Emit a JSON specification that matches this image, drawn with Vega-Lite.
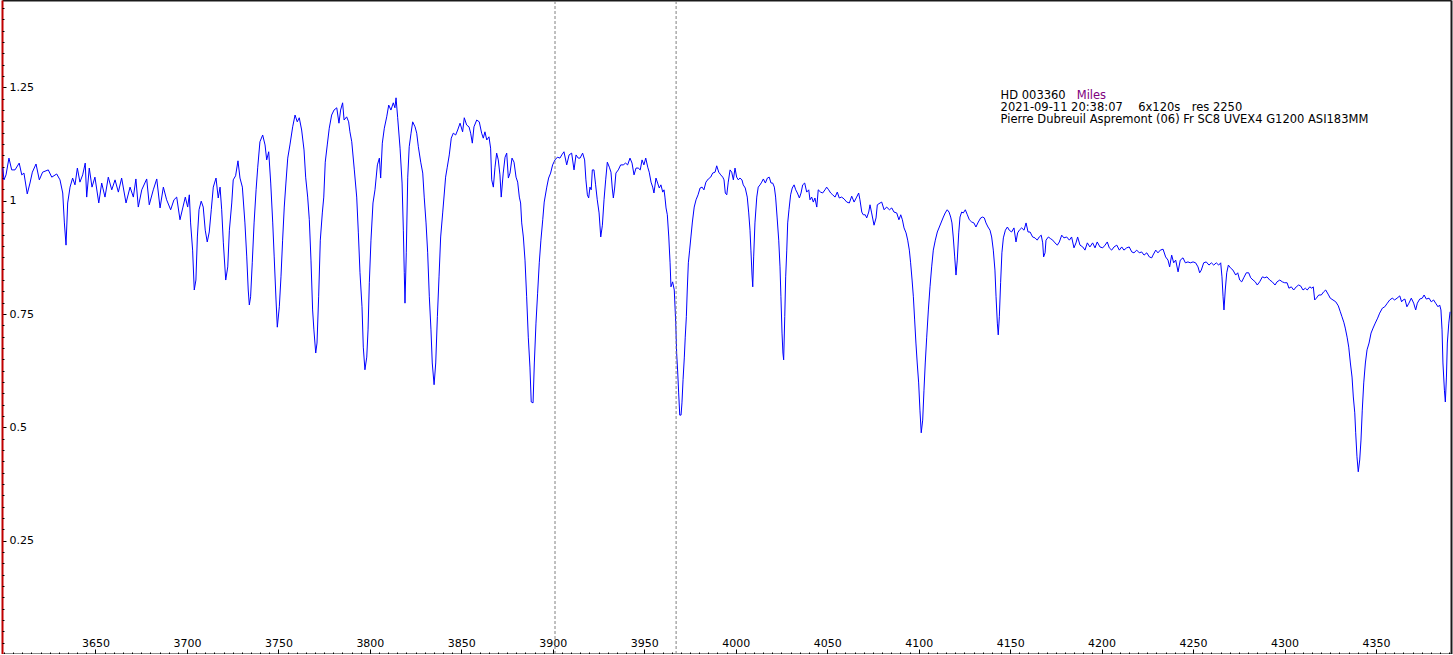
{
"$schema": "https://vega.github.io/schema/vega-lite/v6.json",
"width": 1449, "height": 654,
"autosize": {"type": "none"},
"padding": {"left": 2, "top": 0, "right": 2, "bottom": 0},
"background": "white",
"config": {"view": {"stroke": null}, "axis": {"labelFont": "DejaVu Sans", "labelFontSize": 11, "labelColor": "#000000", "grid": false, "tickColor": "#000000", "title": null}},
"datasets": {
"spectrum": [
{"wl":3599.3,"flux":1.072},{"wl":3600.0,"flux":1.046},{"wl":3601.1,"flux":1.057},{"wl":3602.7,"flux":1.094},{"wl":3604.2,"flux":1.068},{"wl":3606.0,"flux":1.068},{"wl":3608.3,"flux":1.083},{"wl":3609.7,"flux":1.057},{"wl":3610.9,"flux":1.061},{"wl":3612.7,"flux":1.015},{"wl":3614.2,"flux":1.039},{"wl":3615.5,"flux":1.063},{"wl":3617.5,"flux":1.081},{"wl":3619.3,"flux":1.046},{"wl":3621.1,"flux":1.063},{"wl":3624.2,"flux":1.068},{"wl":3626.1,"flux":1.052},{"wl":3628.8,"flux":1.059},{"wl":3630.6,"flux":1.046},{"wl":3632.1,"flux":1.017},{"wl":3633.0,"flux":0.951},{"wl":3633.9,"flux":0.902},{"wl":3634.8,"flux":0.995},{"wl":3636.1,"flux":1.030},{"wl":3637.5,"flux":1.050},{"wl":3638.8,"flux":1.035},{"wl":3640.1,"flux":1.072},{"wl":3641.5,"flux":1.041},{"wl":3643.0,"flux":1.057},{"wl":3644.4,"flux":1.083},{"wl":3645.2,"flux":1.008},{"wl":3646.6,"flux":1.072},{"wl":3648.1,"flux":1.030},{"wl":3649.7,"flux":1.052},{"wl":3651.8,"flux":0.995},{"wl":3653.4,"flux":1.039},{"wl":3655.2,"flux":1.008},{"wl":3657.0,"flux":1.052},{"wl":3658.9,"flux":1.024},{"wl":3660.7,"flux":1.046},{"wl":3662.5,"flux":1.019},{"wl":3664.3,"flux":1.050},{"wl":3666.7,"flux":0.995},{"wl":3668.9,"flux":1.030},{"wl":3670.7,"flux":1.008},{"wl":3672.1,"flux":1.048},{"wl":3673.4,"flux":0.986},{"wl":3675.3,"flux":1.024},{"wl":3678.0,"flux":1.048},{"wl":3679.4,"flux":0.991},{"wl":3681.6,"flux":1.024},{"wl":3683.5,"flux":1.048},{"wl":3685.3,"flux":0.984},{"wl":3687.1,"flux":1.030},{"wl":3688.9,"flux":1.002},{"wl":3691.1,"flux":0.980},{"wl":3692.9,"flux":1.002},{"wl":3694.4,"flux":1.008},{"wl":3696.2,"flux":0.958},{"wl":3697.7,"flux":0.984},{"wl":3699.1,"flux":1.008},{"wl":3700.4,"flux":0.986},{"wl":3701.3,"flux":1.013},{"wl":3702.0,"flux":0.951},{"wl":3703.1,"flux":0.891},{"wl":3704.0,"flux":0.803},{"wl":3704.9,"flux":0.825},{"wl":3705.7,"flux":0.920},{"wl":3706.6,"flux":0.980},{"wl":3707.8,"flux":0.999},{"wl":3708.9,"flux":0.986},{"wl":3710.0,"flux":0.935},{"wl":3711.1,"flux":0.909},{"wl":3712.2,"flux":0.931},{"wl":3713.3,"flux":0.980},{"wl":3714.4,"flux":1.030},{"wl":3715.9,"flux":1.050},{"wl":3717.1,"flux":1.006},{"wl":3718.1,"flux":1.030},{"wl":3719.0,"flux":0.980},{"wl":3719.9,"flux":0.907},{"wl":3721.2,"flux":0.825},{"wl":3722.3,"flux":0.854},{"wl":3723.2,"flux":0.935},{"wl":3724.5,"flux":0.995},{"wl":3725.3,"flux":1.046},{"wl":3726.6,"flux":1.055},{"wl":3727.9,"flux":1.088},{"wl":3729.0,"flux":1.050},{"wl":3730.3,"flux":1.030},{"wl":3731.7,"flux":0.951},{"wl":3732.7,"flux":0.876},{"wl":3733.5,"flux":0.803},{"wl":3734.1,"flux":0.770},{"wl":3734.8,"flux":0.788},{"wl":3735.7,"flux":0.863},{"wl":3736.7,"flux":0.951},{"wl":3737.8,"flux":1.024},{"wl":3738.7,"flux":1.074},{"wl":3739.9,"flux":1.130},{"wl":3741.4,"flux":1.145},{"wl":3742.7,"flux":1.123},{"wl":3743.6,"flux":1.090},{"wl":3744.7,"flux":1.108},{"wl":3745.8,"flux":1.039},{"wl":3746.9,"flux":0.951},{"wl":3747.7,"flux":0.876},{"wl":3748.7,"flux":0.781},{"wl":3749.4,"flux":0.721},{"wl":3750.5,"flux":0.766},{"wl":3751.4,"flux":0.832},{"wl":3752.3,"flux":0.913},{"wl":3753.2,"flux":0.986},{"wl":3754.1,"flux":1.039},{"wl":3755.1,"flux":1.094},{"wl":3756.3,"flux":1.123},
{"wl":3757.8,"flux":1.163},{"wl":3759.1,"flux":1.189},{"wl":3760.3,"flux":1.174},{"wl":3761.4,"flux":1.183},{"wl":3762.7,"flux":1.156},{"wl":3764.0,"flux":1.112},{"wl":3764.9,"flux":1.052},{"wl":3766.0,"flux":1.008},{"wl":3766.9,"flux":0.958},{"wl":3767.8,"flux":0.869},{"wl":3768.7,"flux":0.759},{"wl":3769.4,"flux":0.715},{"wl":3770.4,"flux":0.664},{"wl":3771.1,"flux":0.686},{"wl":3772.0,"flux":0.788},{"wl":3772.9,"flux":0.913},{"wl":3774.0,"flux":0.973},{"wl":3774.8,"flux":1.008},{"wl":3775.6,"flux":1.085},{"wl":3776.7,"flux":1.123},{"wl":3777.8,"flux":1.160},{"wl":3779.1,"flux":1.189},{"wl":3780.4,"flux":1.200},{"wl":3781.9,"flux":1.205},{"wl":3783.1,"flux":1.171},{"wl":3784.0,"flux":1.200},{"wl":3785.1,"flux":1.216},{"wl":3785.9,"flux":1.178},{"wl":3787.3,"flux":1.185},{"wl":3788.4,"flux":1.174},{"wl":3789.1,"flux":1.152},{"wl":3790.1,"flux":1.130},{"wl":3791.5,"flux":1.068},{"wl":3792.8,"flux":1.008},{"wl":3793.7,"flux":0.929},{"wl":3794.6,"flux":0.841},{"wl":3795.7,"flux":0.766},{"wl":3796.4,"flux":0.677},{"wl":3797.3,"flux":0.627},{"wl":3798.3,"flux":0.655},{"wl":3799.0,"flux":0.715},{"wl":3799.7,"flux":0.819},{"wl":3800.6,"flux":0.913},{"wl":3801.7,"flux":0.995},{"wl":3802.8,"flux":1.024},{"wl":3804.1,"flux":1.079},{"wl":3805.2,"flux":1.094},{"wl":3805.9,"flux":1.050},{"wl":3806.8,"flux":1.127},{"wl":3807.9,"flux":1.160},{"wl":3809.2,"flux":1.185},{"wl":3810.3,"flux":1.211},{"wl":3811.5,"flux":1.200},{"wl":3812.8,"flux":1.216},{"wl":3813.7,"flux":1.205},{"wl":3814.3,"flux":1.227},{"wl":3815.2,"flux":1.183},{"wl":3816.5,"flux":1.116},{"wl":3817.6,"flux":1.039},{"wl":3818.3,"flux":0.935},{"wl":3818.8,"flux":0.841},{"wl":3819.2,"flux":0.774},{"wl":3819.9,"flux":0.885},{"wl":3820.7,"flux":1.052},{"wl":3821.5,"flux":1.119},{"wl":3822.5,"flux":1.149},{"wl":3823.4,"flux":1.174},{"wl":3824.7,"flux":1.163},{"wl":3825.6,"flux":1.149},{"wl":3826.5,"flux":1.119},{"wl":3827.8,"flux":1.085},{"wl":3828.9,"flux":1.061},{"wl":3829.7,"flux":1.008},{"wl":3830.7,"flux":0.951},{"wl":3831.6,"flux":0.885},{"wl":3832.5,"flux":0.788},{"wl":3833.4,"flux":0.715},{"wl":3834.1,"flux":0.642},{"wl":3835.1,"flux":0.594},{"wl":3836.0,"flux":0.642},{"wl":3836.9,"flux":0.744},{"wl":3837.8,"flux":0.832},{"wl":3838.7,"flux":0.920},{"wl":3839.8,"flux":0.973},{"wl":3840.7,"flux":1.017},{"wl":3841.4,"flux":1.052},{"wl":3842.3,"flux":1.074},{"wl":3843.4,"flux":1.101},{"wl":3844.5,"flux":1.138},{"wl":3845.6,"flux":1.149},{"wl":3846.9,"flux":1.145},{"wl":3848.0,"flux":1.156},{"wl":3849.3,"flux":1.171},{"wl":3850.7,"flux":1.152},{"wl":3851.6,"flux":1.183},{"wl":3852.9,"flux":1.167},{"wl":3854.2,"flux":1.163},{"wl":3855.1,"flux":1.149},{"wl":3856.0,"flux":1.127},{"wl":3856.9,"flux":1.163},{"wl":3858.4,"flux":1.178},{"wl":3859.8,"flux":1.174},{"wl":3861.1,"flux":1.149},{"wl":3862.0,"flux":1.138},{"wl":3862.9,"flux":1.152},{"wl":3863.9,"flux":1.134},{"wl":3865.1,"flux":1.141},{"wl":3866.0,"flux":1.116},{"wl":3866.6,"flux":1.046},{"wl":3867.5,"flux":1.030},{"wl":3868.4,"flux":1.074},{"wl":3869.3,"flux":1.105},{"wl":3870.2,"flux":1.090},{"wl":3871.1,"flux":1.057},{"wl":3871.8,"flux":1.008},{"wl":3872.9,"flux":1.061},{"wl":3873.9,"flux":1.096},{"wl":3874.8,"flux":1.105},{"wl":3875.7,"flux":1.050},{"wl":3876.6,"flux":1.061},{"wl":3877.7,"flux":1.094},{"wl":3878.8,"flux":1.085},{"wl":3879.9,"flux":1.052},{"wl":3880.8,"flux":1.041},{"wl":3881.7,"flux":1.008},{"wl":3882.4,"flux":0.995},{"wl":3883.0,"flux":0.951},{"wl":3883.9,"flux":0.920},{"wl":3884.8,"flux":0.869},{"wl":3885.7,"flux":0.788},{"wl":3886.6,"flux":0.699},{"wl":3887.5,"flux":0.633},{"wl":3888.2,"flux":0.556},{"wl":3889.2,"flux":0.554},{"wl":3889.9,"flux":0.642},{"wl":3890.8,"flux":0.730},{"wl":3891.7,"flux":0.796},{"wl":3892.6,"flux":0.863},{"wl":3893.5,"flux":0.913},{"wl":3894.5,"flux":0.958},{"wl":3895.3,"flux":0.997},{"wl":3896.7,"flux":1.030},{"wl":3897.7,"flux":1.050},{"wl":3898.8,"flux":1.061},{"wl":3899.9,"flux":1.079},{"wl":3901.2,"flux":1.090},{"wl":3902.5,"flux":1.096},{"wl":3903.9,"flux":1.094},{"wl":3904.9,"flux":1.101},{"wl":3906.1,"flux":1.108},{"wl":3907.6,"flux":1.079},{"wl":3908.9,"flux":1.101},{"wl":3910.3,"flux":1.105},{"wl":3911.6,"flux":1.068},{"wl":3912.7,"flux":1.101},{"wl":3913.9,"flux":1.094},
{"wl":3914.9,"flux":1.094},{"wl":3916.3,"flux":1.105},{"wl":3917.4,"flux":1.090},{"wl":3918.1,"flux":1.046},{"wl":3918.9,"flux":1.013},{"wl":3919.6,"flux":1.006},{"wl":3920.3,"flux":1.030},{"wl":3921.0,"flux":1.024},{"wl":3921.6,"flux":1.068},{"wl":3922.5,"flux":1.068},{"wl":3923.4,"flux":1.035},{"wl":3924.3,"flux":1.002},{"wl":3925.3,"flux":0.973},{"wl":3926.2,"flux":0.920},{"wl":3927.1,"flux":0.946},{"wl":3928.0,"flux":1.002},{"wl":3928.9,"flux":1.046},{"wl":3929.8,"flux":1.085},{"wl":3930.9,"flux":1.074},{"wl":3931.8,"flux":1.063},{"wl":3932.5,"flux":1.028},{"wl":3933.1,"flux":1.006},{"wl":3933.8,"flux":1.028},{"wl":3934.5,"flux":1.061},{"wl":3935.8,"flux":1.068},{"wl":3937.1,"flux":1.079},{"wl":3938.5,"flux":1.079},{"wl":3939.8,"flux":1.083},{"wl":3940.9,"flux":1.079},{"wl":3942.2,"flux":1.094},{"wl":3943.3,"flux":1.083},{"wl":3944.4,"flux":1.057},{"wl":3945.5,"flux":1.072},{"wl":3946.7,"flux":1.072},{"wl":3947.8,"flux":1.068},{"wl":3948.8,"flux":1.090},{"wl":3949.8,"flux":1.079},{"wl":3950.8,"flux":1.094},{"wl":3951.9,"flux":1.074},{"wl":3952.7,"flux":1.063},{"wl":3953.7,"flux":1.041},{"wl":3954.6,"flux":1.030},{"wl":3955.3,"flux":1.017},{"wl":3956.4,"flux":1.050},{"wl":3957.3,"flux":1.039},{"wl":3958.2,"flux":1.028},{"wl":3959.1,"flux":1.035},{"wl":3960.1,"flux":1.019},{"wl":3960.8,"flux":1.024},{"wl":3961.3,"flux":1.008},{"wl":3961.9,"flux":0.984},{"wl":3962.6,"flux":0.969},{"wl":3963.4,"flux":0.920},{"wl":3964.1,"flux":0.863},{"wl":3964.6,"flux":0.810},{"wl":3965.5,"flux":0.821},{"wl":3966.4,"flux":0.803},{"wl":3967.2,"flux":0.730},{"wl":3967.7,"flux":0.664},{"wl":3968.3,"flux":0.620},{"wl":3968.8,"flux":0.576},{"wl":3969.4,"flux":0.527},{"wl":3970.1,"flux":0.527},{"wl":3970.6,"flux":0.554},{"wl":3971.2,"flux":0.605},{"wl":3971.9,"flux":0.655},{"wl":3972.4,"flux":0.699},{"wl":3973.0,"flux":0.744},{"wl":3973.5,"flux":0.803},{"wl":3974.1,"flux":0.863},{"wl":3974.8,"flux":0.891},{"wl":3975.5,"flux":0.920},{"wl":3976.3,"flux":0.953},{"wl":3977.3,"flux":0.986},{"wl":3978.3,"flux":1.002},{"wl":3979.4,"flux":1.013},{"wl":3980.5,"flux":1.028},{"wl":3981.6,"flux":1.030},{"wl":3982.6,"flux":1.024},{"wl":3983.7,"flux":1.041},{"wl":3985.0,"flux":1.048},{"wl":3986.3,"flux":1.052},{"wl":3987.4,"flux":1.061},{"wl":3988.7,"flux":1.063},{"wl":3989.6,"flux":1.077},{"wl":3990.7,"flux":1.063},{"wl":3991.8,"flux":1.057},{"wl":3992.9,"flux":1.052},{"wl":3993.6,"flux":1.046},{"wl":3994.3,"flux":1.017},{"wl":3995.1,"flux":1.013},{"wl":3995.9,"flux":1.041},{"wl":3996.9,"flux":1.068},{"wl":3997.8,"flux":1.063},{"wl":3998.7,"flux":1.046},{"wl":3999.6,"flux":1.072},{"wl":4000.5,"flux":1.052},{"wl":4001.4,"flux":1.046},{"wl":4002.3,"flux":1.050},{"wl":4003.4,"flux":1.046},{"wl":4004.1,"flux":1.035},{"wl":4005.2,"flux":1.028},{"wl":4006.3,"flux":1.008},{"wl":4007.1,"flux":0.973},{"wl":4007.8,"flux":0.935},{"wl":4008.3,"flux":0.891},{"wl":4008.9,"flux":0.836},{"wl":4009.3,"flux":0.810},{"wl":4009.8,"flux":0.876},{"wl":4010.5,"flux":0.951},{"wl":4011.5,"flux":1.008},{"wl":4012.3,"flux":1.030},{"wl":4013.3,"flux":1.035},{"wl":4014.2,"flux":1.041},{"wl":4015.1,"flux":1.048},{"wl":4016.2,"flux":1.039},{"wl":4017.3,"flux":1.050},{"wl":4018.3,"flux":1.052},{"wl":4019.3,"flux":1.039},{"wl":4020.2,"flux":1.039},{"wl":4021.1,"flux":1.030},{"wl":4021.8,"flux":1.008},{"wl":4022.6,"flux":0.964},{"wl":4023.5,"flux":0.913},{"wl":4024.2,"flux":0.854},{"wl":4024.7,"flux":0.788},{"wl":4025.3,"flux":0.708},{"wl":4025.8,"flux":0.664},{"wl":4026.2,"flux":0.649},{"wl":4026.8,"flux":0.744},{"wl":4027.3,"flux":0.832},{"wl":4027.9,"flux":0.891},{"wl":4028.4,"flux":0.951},{"wl":4029.1,"flux":0.980},{"wl":4030.0,"flux":1.013},{"wl":4030.9,"flux":1.028},{"wl":4031.9,"flux":1.035},{"wl":4032.8,"flux":1.024},{"wl":4033.7,"flux":1.017},{"wl":4034.8,"flux":1.006},{"wl":4035.7,"flux":1.017},{"wl":4036.6,"flux":1.035},{"wl":4037.7,"flux":1.039},{"wl":4038.8,"flux":1.019},{"wl":4039.9,"flux":1.024},{"wl":4040.6,"flux":1.002},{"wl":4041.5,"flux":1.008},{"wl":4042.4,"flux":0.997},{"wl":4043.3,"flux":1.006},{"wl":4044.3,"flux":0.986},{"wl":4045.1,"flux":1.024},{"wl":4046.4,"flux":1.019},{"wl":4047.5,"flux":1.017},{"wl":4048.8,"flux":1.024},{"wl":4049.7,"flux":1.030},{"wl":4050.8,"flux":1.024},{"wl":4051.9,"flux":1.017},{"wl":4053.0,"flux":1.013},{"wl":4054.3,"flux":1.008},{"wl":4055.5,"flux":1.019},{"wl":4056.6,"flux":1.006},{"wl":4057.9,"flux":1.008},{"wl":4059.2,"flux":1.004},{"wl":4060.7,"flux":0.997},{"wl":4062.1,"flux":0.995},{"wl":4063.4,"flux":1.010},{"wl":4064.7,"flux":0.997},{"wl":4066.1,"flux":1.008},{"wl":4067.2,"flux":1.017},{"wl":4067.9,"flux":1.002},{"wl":4068.9,"flux":0.975},{"wl":4069.7,"flux":0.969},{"wl":4070.8,"flux":0.969},{"wl":4071.6,"flux":0.962},{"wl":4072.7,"flux":0.975},
{"wl":4073.4,"flux":0.991},{"wl":4074.3,"flux":0.973},{"wl":4075.6,"flux":0.946},{"wl":4076.7,"flux":0.962},{"wl":4077.4,"flux":0.991},{"wl":4078.9,"flux":0.995},{"wl":4079.8,"flux":0.997},{"wl":4081.1,"flux":0.980},{"wl":4082.5,"flux":0.986},{"wl":4084.0,"flux":0.980},{"wl":4085.3,"flux":0.984},{"wl":4086.5,"flux":0.975},{"wl":4088.0,"flux":0.973},{"wl":4089.2,"flux":0.958},{"wl":4090.2,"flux":0.969},{"wl":4091.1,"flux":0.958},{"wl":4092.0,"flux":0.940},{"wl":4093.1,"flux":0.929},{"wl":4094.0,"flux":0.913},{"wl":4094.9,"flux":0.891},{"wl":4095.6,"flux":0.863},{"wl":4096.4,"flux":0.825},{"wl":4097.1,"flux":0.788},{"wl":4097.8,"flux":0.737},{"wl":4098.5,"flux":0.686},{"wl":4099.2,"flux":0.642},{"wl":4100.0,"flux":0.598},{"wl":4100.7,"flux":0.538},{"wl":4101.4,"flux":0.488},{"wl":4102.2,"flux":0.516},{"wl":4102.9,"flux":0.582},{"wl":4103.6,"flux":0.642},{"wl":4104.4,"flux":0.699},{"wl":4105.3,"flux":0.759},{"wl":4106.2,"flux":0.810},{"wl":4107.1,"flux":0.854},{"wl":4108.0,"flux":0.891},{"wl":4109.1,"flux":0.913},{"wl":4110.2,"flux":0.931},{"wl":4111.3,"flux":0.942},{"wl":4112.4,"flux":0.953},{"wl":4113.5,"flux":0.964},{"wl":4114.5,"flux":0.973},{"wl":4115.6,"flux":0.980},{"wl":4116.6,"flux":0.975},{"wl":4117.5,"flux":0.964},{"wl":4118.2,"flux":0.951},{"wl":4118.9,"flux":0.920},{"wl":4119.7,"flux":0.876},{"wl":4120.4,"flux":0.836},{"wl":4121.1,"flux":0.869},{"wl":4121.9,"flux":0.929},{"wl":4122.6,"flux":0.964},{"wl":4123.5,"flux":0.975},{"wl":4124.4,"flux":0.973},{"wl":4125.5,"flux":0.980},{"wl":4126.6,"flux":0.969},{"wl":4127.7,"flux":0.958},{"wl":4129.0,"flux":0.953},{"wl":4130.2,"flux":0.951},{"wl":4131.3,"flux":0.942},{"wl":4132.6,"flux":0.953},{"wl":4133.9,"flux":0.962},{"wl":4135.0,"flux":0.964},{"wl":4135.9,"flux":0.962},{"wl":4136.8,"flux":0.951},{"wl":4137.9,"flux":0.942},{"wl":4139.0,"flux":0.935},{"wl":4139.9,"flux":0.920},{"wl":4140.8,"flux":0.891},{"wl":4141.7,"flux":0.847},{"wl":4142.3,"flux":0.788},{"wl":4143.0,"flux":0.730},{"wl":4143.5,"flux":0.704},{"wl":4144.1,"flux":0.744},{"wl":4144.8,"flux":0.819},{"wl":4145.5,"flux":0.885},{"wl":4146.3,"flux":0.918},{"wl":4147.4,"flux":0.935},{"wl":4148.5,"flux":0.942},{"wl":4149.5,"flux":0.935},{"wl":4150.8,"flux":0.931},{"wl":4152.1,"flux":0.940},{"wl":4153.2,"flux":0.909},{"wl":4154.1,"flux":0.929},{"wl":4155.0,"flux":0.935},{"wl":4156.3,"flux":0.940},{"wl":4157.6,"flux":0.935},{"wl":4158.7,"flux":0.951},{"wl":4159.8,"flux":0.931},{"wl":4160.9,"flux":0.931},{"wl":4162.3,"flux":0.920},{"wl":4163.6,"flux":0.918},{"wl":4164.8,"flux":0.913},{"wl":4165.9,"flux":0.920},{"wl":4167.0,"flux":0.924},{"wl":4167.8,"flux":0.907},{"wl":4168.3,"flux":0.876},{"wl":4169.1,"flux":0.885},{"wl":4169.6,"flux":0.913},{"wl":4170.9,"flux":0.920},{"wl":4172.2,"flux":0.916},{"wl":4173.3,"flux":0.913},{"wl":4174.5,"flux":0.907},{"wl":4175.8,"flux":0.902},{"wl":4176.9,"flux":0.909},{"wl":4178.2,"flux":0.924},{"wl":4179.4,"flux":0.918},{"wl":4180.9,"flux":0.920},{"wl":4182.4,"flux":0.913},{"wl":4183.6,"flux":0.920},{"wl":4184.9,"flux":0.896},{"wl":4186.0,"flux":0.907},{"wl":4186.9,"flux":0.920},{"wl":4188.2,"flux":0.902},{"wl":4189.7,"flux":0.898},{"wl":4190.9,"flux":0.891},{"wl":4192.2,"flux":0.907},{"wl":4193.6,"flux":0.898},{"wl":4195.1,"flux":0.907},{"wl":4196.4,"flux":0.896},{"wl":4197.6,"flux":0.909},{"wl":4199.1,"flux":0.898},{"wl":4200.6,"flux":0.896},{"wl":4201.9,"flux":0.902},{"wl":4203.1,"flux":0.909},{"wl":4204.2,"flux":0.896},{"wl":4205.5,"flux":0.891},{"wl":4206.8,"flux":0.898},{"wl":4208.3,"flux":0.902},{"wl":4209.7,"flux":0.891},{"wl":4211.0,"flux":0.898},{"wl":4212.2,"flux":0.891},{"wl":4213.7,"flux":0.896},{"wl":4215.1,"flux":0.898},{"wl":4216.5,"flux":0.887},{"wl":4217.7,"flux":0.885},{"wl":4219.2,"flux":0.891},{"wl":4220.6,"flux":0.885},{"wl":4221.9,"flux":0.887},{"wl":4223.2,"flux":0.880},{"wl":4224.7,"flux":0.885},{"wl":4226.1,"flux":0.876},{"wl":4227.4,"flux":0.874},
{"wl":4228.1,"flux":0.880},{"wl":4229.6,"flux":0.891},{"wl":4230.8,"flux":0.885},{"wl":4232.1,"flux":0.891},{"wl":4233.6,"flux":0.893},{"wl":4235.0,"flux":0.876},{"wl":4236.3,"flux":0.869},{"wl":4237.2,"flux":0.854},{"wl":4238.3,"flux":0.880},{"wl":4239.4,"flux":0.863},{"wl":4240.5,"flux":0.869},{"wl":4241.8,"flux":0.843},{"wl":4243.0,"flux":0.869},{"wl":4244.5,"flux":0.874},{"wl":4245.8,"flux":0.863},{"wl":4247.2,"flux":0.865},{"wl":4248.5,"flux":0.863},{"wl":4250.0,"flux":0.865},{"wl":4251.4,"flux":0.863},{"wl":4252.7,"flux":0.854},{"wl":4253.6,"flux":0.841},{"wl":4254.5,"flux":0.847},{"wl":4255.8,"flux":0.863},{"wl":4257.2,"flux":0.865},{"wl":4258.7,"flux":0.858},{"wl":4260.0,"flux":0.863},{"wl":4261.3,"flux":0.858},{"wl":4262.7,"flux":0.863},{"wl":4264.0,"flux":0.858},{"wl":4265.1,"flux":0.863},{"wl":4265.8,"flux":0.832},{"wl":4266.4,"flux":0.788},{"wl":4266.9,"flux":0.759},{"wl":4267.6,"flux":0.803},{"wl":4268.4,"flux":0.841},{"wl":4269.3,"flux":0.858},{"wl":4270.4,"flux":0.852},{"wl":4271.8,"flux":0.847},{"wl":4273.3,"flux":0.836},{"wl":4274.4,"flux":0.841},{"wl":4275.5,"flux":0.825},{"wl":4276.6,"flux":0.821},{"wl":4277.7,"flux":0.830},{"wl":4279.1,"flux":0.841},{"wl":4280.4,"flux":0.841},{"wl":4281.5,"flux":0.830},{"wl":4282.8,"flux":0.825},{"wl":4284.0,"flux":0.821},{"wl":4285.1,"flux":0.814},{"wl":4286.4,"flux":0.821},{"wl":4287.9,"flux":0.832},{"wl":4289.2,"flux":0.830},{"wl":4290.4,"flux":0.832},{"wl":4291.9,"flux":0.825},{"wl":4293.3,"flux":0.821},{"wl":4294.8,"flux":0.814},{"wl":4295.9,"flux":0.821},{"wl":4297.4,"flux":0.825},{"wl":4298.8,"flux":0.821},{"wl":4300.1,"flux":0.819},{"wl":4301.4,"flux":0.819},{"wl":4302.4,"flux":0.807},{"wl":4303.7,"flux":0.810},{"wl":4305.0,"flux":0.803},{"wl":4306.4,"flux":0.810},{"wl":4307.7,"flux":0.814},{"wl":4308.8,"flux":0.812},{"wl":4310.1,"flux":0.803},{"wl":4311.4,"flux":0.807},{"wl":4312.4,"flux":0.803},{"wl":4313.8,"flux":0.810},{"wl":4314.9,"flux":0.807},{"wl":4315.7,"flux":0.810},{"wl":4316.5,"flux":0.781},{"wl":4317.4,"flux":0.785},{"wl":4318.7,"flux":0.792},{"wl":4320.1,"flux":0.792},{"wl":4321.4,"flux":0.799},{"wl":4322.5,"flux":0.803},{"wl":4323.8,"flux":0.794},{"wl":4325.0,"flux":0.785},{"wl":4326.5,"flux":0.781},{"wl":4328.0,"flux":0.777},{"wl":4329.4,"flux":0.768},{"wl":4330.5,"flux":0.755},{"wl":4331.4,"flux":0.744},{"wl":4332.4,"flux":0.732},{"wl":4333.2,"flux":0.719},{"wl":4334.2,"flux":0.699},{"wl":4335.1,"flux":0.677},{"wl":4336.0,"flux":0.642},{"wl":4336.9,"flux":0.611},{"wl":4337.6,"flux":0.567},{"wl":4338.4,"flux":0.532},{"wl":4338.9,"flux":0.488},{"wl":4339.6,"flux":0.435},{"wl":4340.3,"flux":0.402},{"wl":4341.1,"flux":0.428},{"wl":4341.8,"flux":0.472},{"wl":4342.5,"flux":0.538},{"wl":4343.3,"flux":0.598},{"wl":4344.2,"flux":0.642},{"wl":4345.1,"flux":0.671},{"wl":4346.2,"flux":0.686},{"wl":4347.3,"flux":0.708},{"wl":4348.4,"flux":0.719},{"wl":4349.6,"flux":0.730},{"wl":4350.9,"flux":0.741},{"wl":4352.0,"flux":0.752},{"wl":4353.5,"flux":0.763},{"wl":4354.8,"flux":0.766},{"wl":4356.2,"flux":0.774},{"wl":4357.5,"flux":0.781},{"wl":4358.9,"flux":0.785},{"wl":4360.2,"flux":0.781},{"wl":4361.5,"flux":0.785},{"wl":4363.0,"flux":0.790},{"wl":4364.0,"flux":0.777},{"wl":4364.8,"flux":0.781},{"wl":4365.8,"flux":0.783},{"wl":4366.9,"flux":0.766},{"wl":4368.0,"flux":0.774},{"wl":4369.3,"flux":0.785},{"wl":4370.6,"flux":0.774},{"wl":4371.7,"flux":0.759},{"wl":4372.6,"flux":0.774},{"wl":4373.9,"flux":0.783},{"wl":4375.3,"flux":0.785},{"wl":4376.3,"flux":0.792},{"wl":4377.5,"flux":0.783},{"wl":4379.0,"flux":0.785},{"wl":4380.2,"flux":0.777},{"wl":4381.5,"flux":0.781},{"wl":4382.6,"flux":0.774},{"wl":4383.9,"flux":0.766},{"wl":4384.8,"flux":0.770},{"wl":4385.5,"flux":0.759},{"wl":4386.1,"flux":0.715},{"wl":4386.6,"flux":0.642},{"wl":4387.4,"flux":0.582},{"wl":4387.9,"flux":0.556},{"wl":4388.5,"flux":0.611},{"wl":4389.0,"flux":0.686},{"wl":4389.8,"flux":0.730},{"wl":4390.5,"flux":0.755}
],
"markers": [{"wl": 3901.2}, {"wl": 3967.4}],
"notes": [
{"wl": 4144.8, "flux": 1.2244, "text": "HD 003360", "role": "info"},
{"wl": 4186.4, "flux": 1.2244, "text": "Miles", "role": "catalog"},
{"wl": 4144.8, "flux": 1.1986, "text": "2021-09-11 20:38:07", "role": "info"},
{"wl": 4220.0, "flux": 1.1986, "text": "6x120s", "role": "info"},
{"wl": 4249.3, "flux": 1.1986, "text": "res 2250", "role": "info"},
{"wl": 4144.8, "flux": 1.1708, "text": "Pierre Dubreuil Aspremont (06) Fr SC8 UVEX4 G1200 ASI183MM", "role": "info"}
]
},
"layer": [
{
"data": {"name": "spectrum"},
"mark": {"type": "line", "color": "#0000ff", "strokeWidth": 1, "clip": true},
"encoding": {
"x": {"field": "wl", "type": "quantitative", "scale": {"domain": [3598.9, 4391.0], "nice": false, "zero": false},
"axis": {"orient": "bottom", "values": [3650,3700,3750,3800,3850,3900,3950,4000,4050,4100,4150,4200,4250,4300,4350], "labelExpr": "'' + datum.value", "tickSize": -5, "tickWidth": 1, "domainColor": "#1a1a1a", "domainWidth": 2, "labelBaseline": "alphabetic", "labelPadding": -3, "labelAlign": "center", "labelFlush": false, "labelOverlap": false}},
"y": {"field": "flux", "type": "quantitative", "scale": {"domain": [0, 1.4428], "nice": false, "zero": false},
"axis": {"orient": "left", "values": [0.25, 0.5, 0.75, 1, 1.25], "labelExpr": "'' + datum.value", "tickSize": -4, "tickWidth": 1, "domainColor": "#c00000", "domainWidth": 2, "labelAlign": "left", "labelBaseline": "middle", "labelPadding": -3, "labelFlush": false, "labelOverlap": false}}
}
},
{
"data": {"name": "markers"},
"mark": {"type": "rule", "color": "#808080", "strokeWidth": 1, "strokeDash": [3, 2]},
"encoding": {
"x": {"field": "wl", "type": "quantitative",
"axis": {"orient": "bottom", "values": [3600,3605,3610,3615,3620,3625,3630,3635,3640,3645,3655,3660,3665,3670,3675,3680,3685,3690,3695,3705,3710,3715,3720,3725,3730,3735,3740,3745,3755,3760,3765,3770,3775,3780,3785,3790,3795,3805,3810,3815,3820,3825,3830,3835,3840,3845,3855,3860,3865,3870,3875,3880,3885,3890,3895,3905,3910,3915,3920,3925,3930,3935,3940,3945,3955,3960,3965,3970,3975,3980,3985,3990,3995,4005,4010,4015,4020,4025,4030,4035,4040,4045,4055,4060,4065,4070,4075,4080,4085,4090,4095,4105,4110,4115,4120,4125,4130,4135,4140,4145,4155,4160,4165,4170,4175,4180,4185,4190,4195,4205,4210,4215,4220,4225,4230,4235,4240,4245,4255,4260,4265,4270,4275,4280,4285,4290,4295,4305,4310,4315,4320,4325,4330,4335,4340,4345,4355,4360,4365,4370,4375,4380,4385,4390], "labels": false, "domain": false, "tickSize": -2, "tickWidth": 1}},
"y": {"datum": 0, "type": "quantitative",
"axis": {"orient": "left", "values": [0.025,0.05,0.075,0.1,0.125,0.15,0.175,0.2,0.225,0.275,0.3,0.325,0.35,0.375,0.4,0.425,0.45,0.475,0.525,0.55,0.575,0.6,0.625,0.65,0.675,0.7,0.725,0.775,0.8,0.825,0.85,0.875,0.9,0.925,0.95,0.975,1.025,1.05,1.075,1.1,1.125,1.15,1.175,1.2,1.225,1.275,1.3,1.325,1.35,1.375,1.4,1.425], "labels": false, "domain": false, "tickSize": -2, "tickWidth": 1}},
"y2": {"datum": 1.4428}
}
},
{
"data": {"name": "notes"},
"mark": {"type": "text", "align": "left", "baseline": "alphabetic", "font": "DejaVu Sans", "fontSize": 11.5},
"encoding": {
"x": {"field": "wl", "type": "quantitative", "axis": {"orient": "top", "labels": false, "ticks": false, "domain": true, "domainColor": "#1a1a1a", "domainWidth": 2}},
"y": {"field": "flux", "type": "quantitative", "axis": {"orient": "right", "labels": false, "ticks": false, "domain": true, "domainColor": "#1a1a1a", "domainWidth": 2}},
"text": {"field": "text"},
"color": {"field": "role", "type": "nominal", "scale": {"domain": ["info", "catalog"], "range": ["#000000", "#800080"]}, "legend": null}
}
}
],
"resolve": {"axis": {"x": "independent", "y": "independent"}}
}
